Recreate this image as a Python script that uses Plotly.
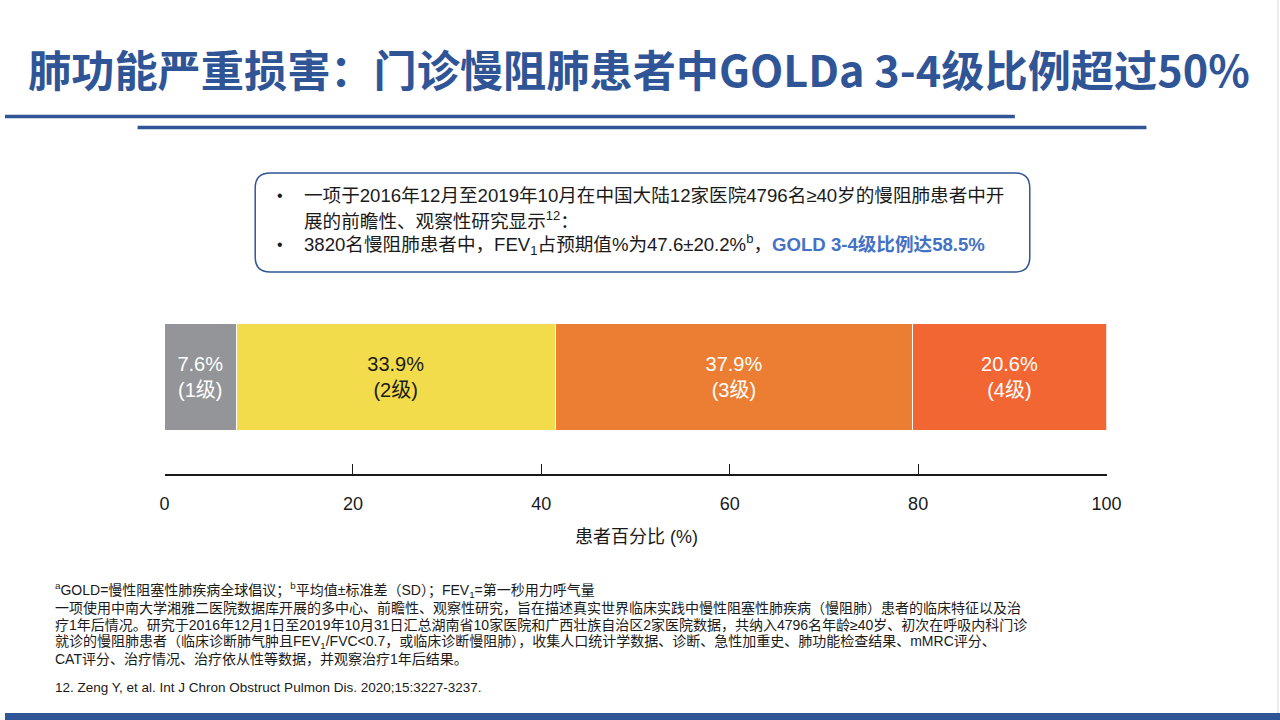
import plotly.graph_objects as go

# GOLD 分级占比 (%)
grades = ["1级", "2级", "3级", "4级"]
shares = [7.6, 33.9, 37.9, 20.6]
bar_colors = ["#939598", "#F3DC4B", "#EC7E33", "#F26634"]
label_colors = ["white", "#1a1a1a", "white", "white"]

xticks = [0, 20, 40, 60, 80, 100]

title = "肺功能严重损害：门诊慢阻肺患者中GOLDa 3-4级比例超过50%"
bullet_lines = [
    "一项于2016年12月至2019年10月在中国大陆12家医院4796名≥40岁的慢阻肺患者中开",
    "展的前瞻性、观察性研究显示<sup>12</sup>：",
    "3820名慢阻肺患者中，FEV<sub>1</sub>占预期值%为47.6±20.2%<sup>b</sup>，"
    "<span style='color:#4472C4'><b>GOLD 3-4级比例达58.5%</b></span>",
]
footnotes = [
    "<sup>a</sup>GOLD=慢性阻塞性肺疾病全球倡议；<sup>b</sup>平均值±标准差（SD）；FEV<sub>1</sub>=第一秒用力呼气量",
    "一项使用中南大学湘雅二医院数据库开展的多中心、前瞻性、观察性研究，旨在描述真实世界临床实践中慢性阻塞性肺疾病（慢阻肺）患者的临床特征以及治",
    "疗1年后情况。研究于2016年12月1日至2019年10月31日汇总湖南省10家医院和广西壮族自治区2家医院数据，共纳入4796名年龄≥40岁、初次在呼吸内科门诊",
    "就诊的慢阻肺患者（临床诊断肺气肿且FEV<sub>1</sub>/FVC<0.7，或临床诊断慢阻肺），收集人口统计学数据、诊断、急性加重史、肺功能检查结果、mMRC评分、",
    "CAT评分、治疗情况、治疗依从性等数据，并观察治疗1年后结果。",
]
reference = "12. Zeng Y, et al. Int J Chron Obstruct Pulmon Dis. 2020;15:3227-3237."

W, H = 1280, 720
BLUE = "#2F5597"
FONT = "Arial, Liberation Sans, Noto Sans CJK SC"
TXT = "#1a1a1a"


def py(y):
    return 1 - y / H


def px(x):
    return x / W


fig = go.Figure()
for g, v, c, tc in zip(grades, shares, bar_colors, label_colors):
    fig.add_trace(go.Bar(
        x=[v], y=[0], orientation="h", width=1,
        marker=dict(color=c, line=dict(color="white", width=1)),
        text=[f"{v}%<br>({g})"], textposition="inside",
        insidetextanchor="middle", textangle=0,
        textfont=dict(size=20, color=tc, family=FONT),
        hoverinfo="skip", showlegend=False,
    ))

# rounded box around the key findings
bx0, bx1, by0, by1, r = 251, 1028, 173, 272, 15
box_pts = [
    ("M", bx0 + r, by0), ("L", bx1 - r, by0), ("Q", bx1, by0), ("", bx1, by0 + r),
    ("L", bx1, by1 - r), ("Q", bx1, by1), ("", bx1 - r, by1), ("L", bx0 + r, by1),
    ("Q", bx0, by1), ("", bx0, by1 - r), ("L", bx0, by0 + r), ("Q", bx0, by0), ("", bx0 + r, by0),
]
box_path = " ".join(f"{cmd} {px(x):.5f},{py(y):.5f}".strip() for cmd, x, y in box_pts) + " Z"

shapes = [
    dict(type="line", xref="paper", yref="paper", x0=0, x1=px(1013), y0=py(116.5), y1=py(116.5),
         line=dict(color=BLUE, width=3.5)),
    dict(type="line", xref="paper", yref="paper", x0=px(133), x1=px(1145), y0=py(127.5), y1=py(127.5),
         line=dict(color=BLUE, width=3.5)),
    dict(type="rect", xref="paper", yref="paper", x0=0, x1=1, y0=0, y1=py(713),
         fillcolor=BLUE, line=dict(width=0)),
    dict(type="line", xref="paper", yref="paper", x0=px(1277), x1=px(1277), y0=py(713), y1=1,
         line=dict(color="#d9d9d9", width=1)),
    dict(type="path", xref="paper", yref="paper", path=box_path,
         line=dict(color=BLUE, width=1.5)),
]

annotations = [
    dict(text=f"<b>{title}</b>", x=px(636), y=py(68), xref="paper", yref="paper",
         xanchor="center", yanchor="middle", showarrow=False,
         font=dict(size=43.2, color=BLUE, family="Noto Sans CJK SC")),
    dict(text="患者百分比 (%)", x=px(633), y=py(537), xref="paper", yref="paper",
         xanchor="center", yanchor="middle", showarrow=False,
         font=dict(size=18, color=TXT, family=FONT)),
]
for i, (yy, line) in enumerate(zip([196, 219.5, 244], bullet_lines)):
    if i != 1:
        annotations.append(dict(text="•", x=px(271), y=py(yy), xref="paper", yref="paper",
                                xanchor="left", yanchor="middle", showarrow=False,
                                font=dict(size=16, color=TXT, family=FONT)))
    annotations.append(dict(text=line, x=px(298), y=py(yy), xref="paper", yref="paper",
                            xanchor="left", yanchor="middle", showarrow=False,
                            font=dict(size=18.6, color=TXT, family=FONT)))
for yy, line in zip([590, 607.5, 625, 642, 659], footnotes):
    annotations.append(dict(text=line, x=px(48), y=py(yy), xref="paper", yref="paper",
                            xanchor="left", yanchor="middle", showarrow=False,
                            font=dict(size=14, color=TXT, family=FONT)))
annotations.append(dict(text=reference, x=px(48), y=py(687), xref="paper", yref="paper",
                        xanchor="left", yanchor="middle", showarrow=False,
                        font=dict(size=13.5, color=TXT, family=FONT)))

fig.update_layout(
    # page is photographed slightly narrowed, so the canvas is a bit wider than 1280
    width=1296, height=H, autosize=False, barmode="stack",
    margin=dict(l=0, r=0, t=0, b=0),
    paper_bgcolor="white", plot_bgcolor="white",
    xaxis=dict(domain=[px(160), px(1105)], range=[0, 100], tickvals=xticks,
               showgrid=False, zeroline=False, showline=True, linecolor=TXT, linewidth=1.5,
               ticks="inside", ticklen=10, tickwidth=1.2, tickcolor=TXT,
               ticklabelstandoff=13,
               tickfont=dict(size=18, color=TXT, family=FONT)),
    yaxis=dict(domain=[py(474), py(323)], range=[-0.9, 0.5], visible=False),
    shapes=shapes,
    annotations=annotations,
)

fig.write_html("out.html", config={"displayModeBar": False, "responsive": False},
               post_script="document.body.style.margin='0';document.body.style.overflow='hidden';")
